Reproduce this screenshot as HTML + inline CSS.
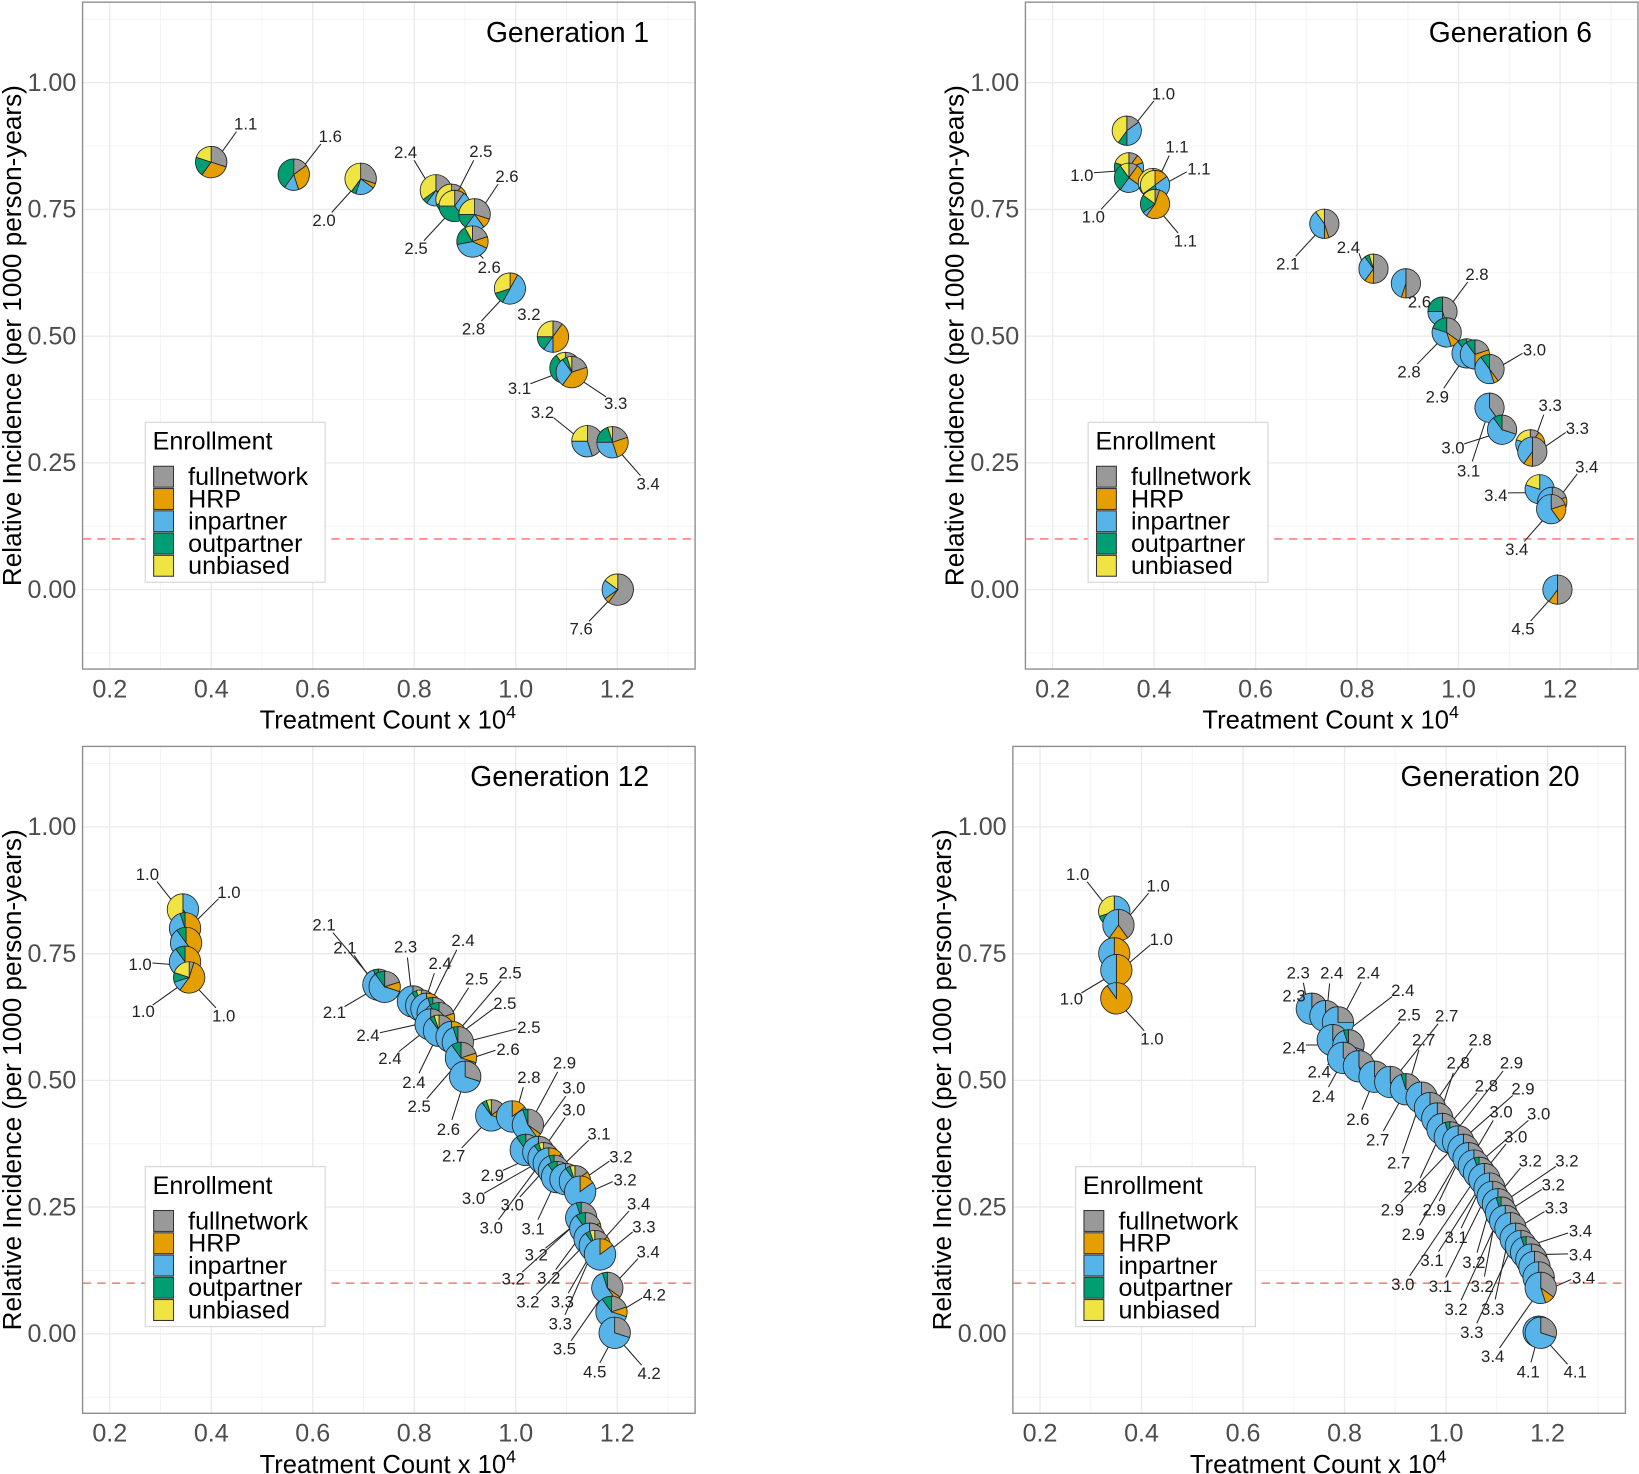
<!DOCTYPE html>
<html><head><meta charset="utf-8">
<style>
html,body{margin:0;padding:0;background:#fff;}
svg{display:block;font-family:"Liberation Sans",Arial,sans-serif;}
</style></head>
<body>
<svg id="s" width="1639" height="1474" viewBox="0 0 1568 1410" xmlns="http://www.w3.org/2000/svg"></svg>
<script>
var S=document.getElementById('s'),out='';
var COL=['#999999','#E69F00','#56B4E9','#009E73','#F0E442'];
function pie(cx,cy,r,f){
  var t=0,a0=-Math.PI/2,s='';
  var tot=f.reduce(function(a,b){return a+b},0);
  for(var i=0;i<5;i++){
    if(f[i]<=0)continue;
    var frac=f[i]/tot;
    if(frac>=0.999){s+='<circle cx="'+cx+'" cy="'+cy+'" r="'+r+'" fill="'+COL[i]+'" stroke="#222" stroke-width="0.8"/>';continue;}
    var a1=a0+t*2*Math.PI,a2=a0+(t+frac)*2*Math.PI;
    var x1=cx+r*Math.cos(a1),y1=cy+r*Math.sin(a1),x2=cx+r*Math.cos(a2),y2=cy+r*Math.sin(a2);
    s+='<path d="M'+cx+','+cy+'L'+x1.toFixed(2)+','+y1.toFixed(2)+'A'+r+','+r+' 0 '+(frac>0.5?1:0)+' 1 '+x2.toFixed(2)+','+y2.toFixed(2)+'Z" fill="'+COL[i]+'" stroke="#222" stroke-width="0.8"/>';
    t+=frac;
  }
  return s;
}
function panel(ox,oy,title,ytx){
  var L=79+ox,T=2+oy,R=665+ox,B=640+oy;
  var x0=105+ox,xs=485.5;
  var y1=79+oy,ys=485;
  var s='';
  for(var v=0.3;v<1.35;v+=0.2){var X=x0+(v-0.2)*xs;s+='<line x1="'+X+'" y1="'+T+'" x2="'+X+'" y2="'+B+'" stroke="#f4f4f4" stroke-width="1"/>';}
  for(var v=-0.125;v<1.15;v+=0.25){var Y=y1+(1-v)*ys;s+='<line x1="'+L+'" y1="'+Y+'" x2="'+R+'" y2="'+Y+'" stroke="#f4f4f4" stroke-width="1"/>';}
  var xl=['0.2','0.4','0.6','0.8','1.0','1.2'];
  for(var i=0;i<6;i++){var X=x0+i*0.2*xs;s+='<line x1="'+X+'" y1="'+T+'" x2="'+X+'" y2="'+B+'" stroke="#ebebeb" stroke-width="1.3"/>';
    s+='<text x="'+X+'" y="'+(B+27)+'" font-size="24" fill="#4d4d4d" text-anchor="middle">'+xl[i]+'</text>';}
  var yl=['0.00','0.25','0.50','0.75','1.00'];
  for(var i=0;i<5;i++){var Y=y1+(1-i*0.25)*ys;s+='<line x1="'+L+'" y1="'+Y+'" x2="'+R+'" y2="'+Y+'" stroke="#ebebeb" stroke-width="1.3"/>';
    s+='<text x="'+(L-6)+'" y="'+(Y+8)+'" font-size="24" fill="#4d4d4d" text-anchor="end">'+yl[i]+'</text>';}
  var Yd=y1+0.9*ys;
  s+='<line x1="'+L+'" y1="'+Yd+'" x2="'+R+'" y2="'+Yd+'" stroke="#ff8080" stroke-width="1.5" stroke-dasharray="8,6"/>';
  s+='<rect x="'+L+'" y="'+T+'" width="'+(R-L)+'" height="'+(B-T)+'" fill="none" stroke="#8c8c8c" stroke-width="1.3"/>';
  s+='<text x="'+(R-44)+'" y="'+(T+38)+'" font-size="27" text-anchor="end">'+title+'</text>';
  s+='<text x="'+((L+R)/2-1)+'" y="'+(B+57)+'" font-size="24.5" text-anchor="middle">Treatment Count x 10<tspan dy="-10" font-size="17">4</tspan></text>';
  s+='<text transform="translate('+ytx+','+(T+319)+') rotate(-90)" font-size="25" text-anchor="middle">Relative Incidence (per 1000 person-years)</text>';
  var lx=139+ox,ly=404+oy;
  s+='<rect x="'+lx+'" y="'+ly+'" width="172" height="153" fill="#fff" stroke="#d9d9d9" stroke-width="1.2"/>';
  s+='<text x="'+(lx+7)+'" y="'+(ly+26)+'" font-size="24">Enrollment</text>';
  var nm=['fullnetwork','HRP','inpartner','outpartner','unbiased'];
  for(var i=0;i<5;i++){var yy=ly+42+i*21.3;
    s+='<rect x="'+(lx+8)+'" y="'+yy+'" width="19" height="20" fill="'+COL[i]+'" stroke="#333" stroke-width="1"/>';
    s+='<text x="'+(lx+41)+'" y="'+(yy+18)+'" font-size="24">'+nm[i]+'</text>';}
  return s;
}
function draw(pies,labels,r){
  var s='';
  labels.forEach(function(l){
    var best=null,bd=1e9;
    pies.forEach(function(p){var d=Math.hypot(p[0]-l[0],p[1]-l[1]);if(d<bd){bd=d;best=p;}});
    if(l.length>3&&l[3]!=null)best=pies[l[3]];
    var dx=best[0]-l[0],dy=best[1]-l[1],d=Math.hypot(dx,dy)||1;
    var sx=l[0]+dx/d*12,sy=l[1]-5+dy/d*10,ex=best[0]-dx/d*(r-1),ey=best[1]-dy/d*(r-1);
    if(d>r+14)s+='<line x1="'+sx+'" y1="'+sy+'" x2="'+ex+'" y2="'+ey+'" stroke="#222" stroke-width="1"/>';
  });
  pies.forEach(function(p){s+=pie(p[0],p[1],r,p[2]);});
  labels.forEach(function(l){s+='<text x="'+l[0]+'" y="'+l[1]+'" font-size="16" fill="#222" text-anchor="middle">'+l[2]+'</text>';});
  return s;
}
out+=panel(0,0,'Generation 1',20);
out+=panel(902,0,'Generation 6',922);
out+=panel(0,712,'Generation 12',20);
out+=panel(890,712,'Generation 20',910);
var p1=[[202,155,[.3,.3,0,.2,.2]],[281,167,[.15,.3,.15,.4,0]],[345,171,[.3,.05,.2,.05,.4]],[417,182,[.35,.05,.2,.05,.35]],[432,191,[.1,.1,.1,.4,.3]],[435,197,[.1,0,.3,.35,.25]],[454,205,[.3,.1,.2,.15,.25]],[452,231,[.2,.12,.4,.2,.08]],[488,276,[0,.08,.5,.12,.3]],[529,322,[.1,.4,.1,.15,.25]],[541,352,[.1,.1,.4,.3,.1]],[547,356,[.2,.4,.3,.05,.05]],[562,422,[.45,0,.3,0,.25]],[586,423,[.2,.25,.3,.2,.05]],[591,564,[.6,.05,.2,0,.15]]];
var l1=[[235,124,'1.1',0],[316,136,'1.6',1],[310,216,'2.0',2],[388,151,'2.4',3],[460,150,'2.5',4],[398,243,'2.5',5],[485,174,'2.6',6],[468,261,'2.6',7],[453,320,'2.8',8],[506,306,'3.2',9],[497,377,'3.1',10],[589,391,'3.3',11],[519,400,'3.2',12],[620,468,'3.4',13],[556,607,'7.6',14]];
out+=draw(p1,l1,15);
var p2=[[1078,125,[.15,0,.35,.1,.4]],[1080,160,[.1,.1,.3,.3,.2]],[1080,170,[.1,.25,.25,.3,.1]],[1103,175,[0,.2,.35,.15,.3]],[1105,177,[0,.15,.3,.2,.35]],[1105,195,[.05,.55,.05,.2,.15]],[1267,214,[.45,.05,.4,0,.1]],[1314,257,[.5,.1,.3,.05,.05]],[1345,271,[.5,.05,.45,0,0]],[1380,298,[.45,.05,.25,.25,0]],[1384,318,[.35,.1,.35,.2,0]],[1403,338,[.2,.2,.5,.1,0]],[1411,339,[.2,.3,.4,.1,0]],[1425,353,[.4,.05,.45,.1,0]],[1425,390,[.4,0,.6,0,0]],[1437,411,[.3,0,.6,.1,0]],[1464,425,[.1,.2,.5,0,.2]],[1466,432,[.5,.1,.4,0,0]],[1473,468,[0,0,.8,0,.2]],[1485,480,[.2,.3,.5,0,0]],[1484,487,[.2,.2,.6,0,0]],[1490,564,[.5,.1,.4,0,0]]];
var l2=[[1113,95,'1.0',0],[1035,173,'1.0',1],[1046,213,'1.0',2],[1126,146,'1.1',3],[1147,167,'1.1',4],[1134,236,'1.1',5],[1232,258,'2.1',6],[1290,242,'2.4',7],[1358,294,'2.6',8],[1413,268,'2.8',9],[1348,361,'2.8',10],[1375,385,'2.9',11],[1468,340,'3.0',13],[1483,393,'3.3',16],[1390,434,'3.0',15],[1509,415,'3.3',17],[1405,456,'3.1',14],[1431,479,'3.4',18],[1518,452,'3.4',19],[1451,531,'3.4',20],[1457,607,'4.5',21]];
out+=draw(p2,l2,14);
var p3=[],mix=[[.35,.05,.55,.05,0],[.2,.1,.6,.1,0],[.3,0,.7,0,0],[.15,.15,.6,.05,.05],[0,.15,.85,0,0]];
[[175,870,[0,0,.4,.1,.5]],[177,888,[0,.45,.5,.05,0]],[178,902,[0,.4,.5,.1,0]],[177,920,[0,.45,.45,.1,0]],[181,935,[.05,.55,.1,.1,.2]]].forEach(function(p){p3.push(p)});
var path3=[[362,942],[368,944],[395,958],[403,962],[408,965],[414,969],[420,974],[412,980],[420,986],[432,992],[438,997],[441,1012],[445,1030],[470,1067],[490,1068],[505,1076],[503,1100],[515,1102],[520,1108],[525,1113],[530,1120],[533,1126],[541,1128],[550,1130],[555,1140],[556,1165],[560,1175],[564,1185],[569,1192],[574,1200],[581,1232],[585,1255],[588,1275]];
path3.forEach(function(q,i){p3.push([q[0],q[1],mix[i%5]]);});
var l3=[[141,842,'1.0',0],[219,859,'1.0',1],[134,928,'1.0',3],[137,973,'1.0',4],[214,977,'1.0',4],[310,890,'2.1',5],[330,912,'2.1',5],[320,974,'2.1',5],[388,911,'2.3',7],[421,927,'2.4',8],[443,905,'2.4',9],[352,996,'2.4',11],[373,1018,'2.4',12],[396,1041,'2.4',13],[456,942,'2.5',13],[488,936,'2.5',14],[483,965,'2.5',14],[506,988,'2.5',15],[401,1064,'2.5',16],[486,1009,'2.6',16],[429,1086,'2.6',17],[434,1111,'2.7',18],[506,1036,'2.8',19],[540,1022,'2.9',20],[471,1130,'2.9',22],[549,1046,'3.0',21],[549,1067,'3.0',22],[453,1152,'3.0',23],[490,1158,'3.0',24],[470,1180,'3.0',23],[573,1090,'3.1',25],[510,1181,'3.1',26],[594,1112,'3.2',28],[598,1134,'3.2',29],[513,1206,'3.2',30],[491,1229,'3.2',30],[525,1228,'3.2',31],[505,1251,'3.2',32],[538,1251,'3.3',33],[536,1272,'3.3',33],[616,1179,'3.3',34],[611,1157,'3.4',33],[620,1203,'3.4',35],[540,1296,'3.5',35],[569,1318,'4.5',37],[626,1244,'4.2',36],[621,1319,'4.2',37]];
out+=draw(p3,l3,15);
var p4=[];
[[1066,872,[0,0,.5,.2,.3]],[1070,885,[.4,.2,.4,0,0]],[1066,912,[0,.5,.5,0,0]],[1068,928,[0,.5,.5,0,0]],[1068,955,[0,.9,.1,0,0]]].forEach(function(p){p4.push(p)});
var path4=[[1255,965],[1268,972],[1280,978],[1275,995],[1290,1000],[1285,1012],[1300,1020],[1315,1030],[1330,1035],[1345,1042],[1360,1050],[1368,1060],[1375,1070],[1380,1080],[1387,1088],[1395,1092],[1400,1100],[1405,1108],[1410,1115],[1415,1122],[1420,1128],[1425,1137],[1428,1145],[1433,1152],[1436,1160],[1440,1168],[1445,1175],[1450,1185],[1455,1192],[1460,1198],[1465,1205],[1468,1212],[1472,1222],[1474,1232],[1472,1274],[1474,1275]];
var mix4=[[.3,0,.7,0,0],[.4,.05,.55,0,0],[.25,0,.75,0,0],[.35,.1,.55,0,0],[.3,0,.65,.05,0]];
path4.forEach(function(q,i){p4.push([q[0],q[1],mix4[i%5]]);});
var l4=[[1031,842,'1.0',0],[1108,853,'1.0',1],[1111,904,'1.0',3],[1025,961,'1.0',3],[1102,999,'1.0',4],[1242,936,'2.3',5],[1238,958,'2.3',5],[1274,936,'2.4',6],[1309,936,'2.4',7],[1342,953,'2.4',8],[1238,1008,'2.4',8],[1262,1031,'2.4',9],[1266,1054,'2.4',10],[1348,976,'2.5',11],[1299,1076,'2.6',12],[1384,977,'2.7',13],[1362,1000,'2.7',14],[1318,1096,'2.7',14],[1338,1118,'2.7',15],[1416,1000,'2.8',16],[1395,1022,'2.8',17],[1422,1044,'2.8',18],[1354,1141,'2.8',18],[1446,1022,'2.9',19],[1457,1047,'2.9',20],[1332,1163,'2.9',20],[1372,1163,'2.9',21],[1352,1186,'2.9',21],[1436,1069,'3.0',22],[1472,1071,'3.0',23],[1450,1093,'3.0',24],[1342,1234,'3.0',24],[1393,1189,'3.1',25],[1370,1211,'3.1',25],[1378,1236,'3.1',26],[1464,1116,'3.2',27],[1499,1116,'3.2',28],[1486,1139,'3.2',29],[1410,1213,'3.2',27],[1418,1236,'3.2',28],[1393,1258,'3.2',29],[1489,1161,'3.3',31],[1428,1258,'3.3',31],[1408,1280,'3.3',32],[1512,1183,'3.4',33],[1512,1206,'3.4',34],[1515,1228,'3.4',38],[1428,1303,'3.4',38],[1462,1318,'4.1',39],[1507,1318,'4.1',40]];
out+=draw(p4,l4,15);
S.innerHTML=out;
</script>
</body></html>
